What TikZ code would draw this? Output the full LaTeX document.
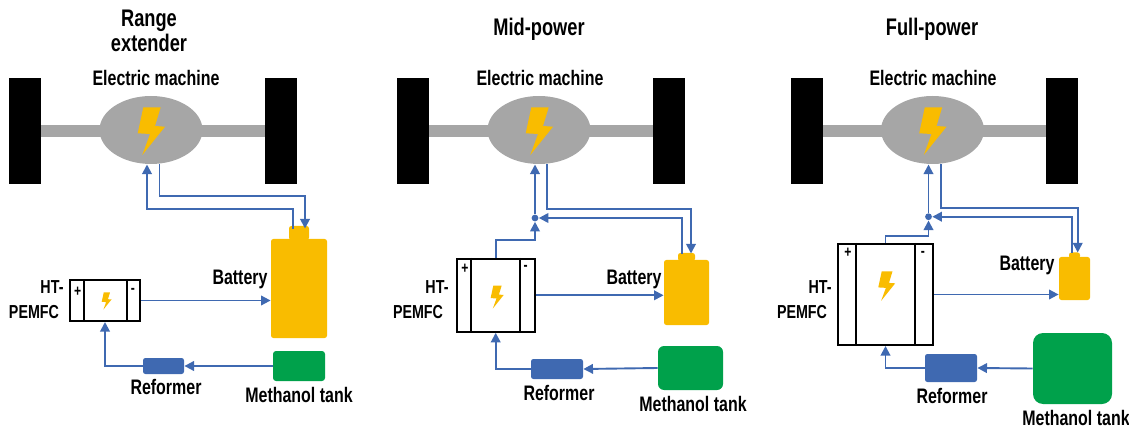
\documentclass[tikz,border=0pt]{standalone}
\usepackage{fontspec}
\setmainfont[FakeStretch=0.76]{Liberation Sans}
\usetikzlibrary{arrows.meta,shapes.geometric}
\definecolor{flowblue}{HTML}{3F69B1}
\definecolor{boltyellow}{HTML}{F9BC00}
\definecolor{tankgreen}{HTML}{00A14B}
\definecolor{axlegray}{HTML}{A6A6A6}
\tikzset{
    lbl/.style={inner sep=0pt,font=\fontsize{10.5}{12.5}\selectfont\bfseries,align=center},
    fclbl/.style={inner sep=0pt,font=\fontsize{9.4}{12.5}\selectfont\bfseries,align=center},
    ttl/.style={inner sep=0pt,font=\fontsize{12}{12.5}\selectfont\bfseries,align=center},
    sign/.style={inner sep=0pt,font=\fontsize{8}{8}\selectfont\bfseries},
    wheel/.style={fill=black,inner sep=0pt,minimum width=16pt,minimum height=53pt},
    machine/.style={ellipse,fill=axlegray,inner sep=0pt,minimum width=51.5pt,minimum height=34pt},
    cell/.style={draw=black,line width=1pt,inner sep=0pt},
    battery/.style={fill=boltyellow,rounded corners=1.2pt,inner sep=0pt},
    tank/.style={fill=tankgreen,inner sep=0pt},
    reformer/.style={fill=flowblue,rounded corners=1.2pt,inner sep=0pt},
    flow/.style={draw=flowblue,line width=.95pt,-{Triangle[width=4.8pt,length=4.8pt]}},
    junction/.style={circle,fill=flowblue,inner sep=0pt,minimum size=3.4pt},
    bolt/.pic={\fill[boltyellow] (-7.7,-23.7) -- (9.7,-23.7) -- (4,-5) -- (14,-4.3) -- (-8.7,24) -- (-1,3) -- (-13.3,2.3) -- cycle;}
}
\begin{document}
\begin{tikzpicture}[x=.5pt,y=-.5pt]
    \useasboundingbox (0,0) rectangle (1129,427);

    % axle and machine
    \foreach \n/\x/\lx in {A/0/156,B/388/540,C/781.5/933}{
        \fill[axlegray] (25+\x,125) rectangle (281+\x,137);
        \node[wheel] (wheelL\n) at (25+\x,131) {};
        \node[wheel] (wheelR\n) at (280.5+\x,131) {};
        \node[machine] (mach\n) at (151+\x,130) {};
        \pic at (151+\x,131) {bolt};
        \node[lbl] (machLbl\n) at (\lx,78) {Electric machine};
    }

    % range extender
    \node[ttl] (titleA) at (149,31) {Range\\extender};
    \node[battery,minimum width=10pt,minimum height=7pt] (capA) at (299,233) {};
    \node[battery,minimum width=28pt,minimum height=49.5pt] (batA) at (299,288.5) {};
    \node[tank,rounded corners=1.5pt,minimum width=26pt,minimum height=15pt] (tankA) at (299,366) {};
    \node[reformer,minimum width=20.5pt,minimum height=8pt] (refA) at (163.5,366) {};
    \node[cell,minimum width=35pt,minimum height=20.5pt] (fcA) at (105,300.5) {};
    \draw[cell] (fcA.north west) ++(14.5,0) -- ++(0,41);
    \draw[cell] (fcA.north east) ++(-14.5,0) -- ++(0,41);
    \pic[scale=.36] at (106.5,301) {bolt};
    \node[sign] (plusA) at (77.7,291.5) {+};
    \node[sign] (minusA) at (133,291) {-};
    \node[lbl] (batLblA) at (240,279) {Battery};
    \node[fclbl] (htA) at (52,287) {HT-};
    \node[fclbl] (pemA) at (34,312) {PEMFC};
    \node[lbl] (refLblA) at (166,387) {Reformer};
    \node[lbl] (tankLblA) at (299,395) {Methanol tank};
    \coordinate (outA) at (293,229);
    \coordinate (inA) at (305,228.5);
    \coordinate (mInA) at (147,164.5);
    \coordinate (mOutA) at (159.5,164);
    \draw[flow] (outA) |- (147,209) -- (mInA);
    \draw[flow] (mOutA) |- (305,196) -- (inA);
    \draw[flow] (fcA.east) -- (fcA.east -| batA.west);
    \draw[flow] (tankA.west) -- (refA.east);
    \draw[flow] (refA.west) -| (fcA.south);

    % mid-power
    \node[ttl] (titleB) at (539,29) {Mid-power};
    \node[battery,minimum width=8.5pt,minimum height=4pt] (capB) at (686.5,257) {};
    \node[battery,minimum width=22.5pt,minimum height=32.5pt] (batB) at (686.5,292.5) {};
    \node[tank,rounded corners=3pt,minimum width=32.5pt,minimum height=22pt] (tankB) at (690.5,368) {};
    \node[reformer,minimum width=26pt,minimum height=10pt] (refB) at (557,369) {};
    \node[cell,minimum width=39pt,minimum height=36.5pt] (fcB) at (495.7,295.3) {};
    \draw[cell] (fcB.north west) ++(15.6,0) -- ++(0,73);
    \draw[cell] (fcB.north east) ++(-16,0) -- ++(0,73);
    \pic[scale=.48] at (497,297) {bolt};
    \node[sign] (plusB) at (465,268.7) {+};
    \node[sign] (minusB) at (525.7,268) {-};
    \node[lbl] (batLblB) at (634,279) {Battery};
    \node[fclbl] (htB) at (437,287) {HT-};
    \node[fclbl] (pemB) at (418,312) {PEMFC};
    \node[lbl] (refLblB) at (559,393) {Reformer};
    \node[lbl] (tankLblB) at (693,404) {Methanol tank};
    \node[junction] (joinB) at (535,218) {};
    \coordinate (outB) at (682,254);
    \coordinate (inB) at (691,253.5);
    \coordinate (mInB) at (535,164.5);
    \coordinate (mOutB) at (547,164);
    \draw[flow] (joinB) -- (mInB);
    \draw[flow] (fcB.north) |- (535,240) -- (joinB.south);
    \draw[flow] (outB) |- (joinB.east);
    \draw[flow] (mOutB) |- (691,209) -- (inB);
    \draw[flow] (fcB.east) -- (fcB.east -| batB.west);
    \draw[flow] (tankB.west) -- (refB.east);
    \draw[flow] (refB.west) -| (fcB.south);

    % full-power
    \node[ttl] (titleC) at (932,29) {Full-power};
    \node[battery,minimum width=5.5pt,minimum height=3pt] (capC) at (1074.5,255.5) {};
    \node[battery,minimum width=15.5pt,minimum height=21.5pt] (batC) at (1074.5,278.5) {};
    \node[tank,rounded corners=5pt,minimum width=39.5pt,minimum height=35.5pt] (tankC) at (1072.5,368.5) {};
    \node[reformer,minimum width=26pt,minimum height=14pt] (refC) at (951,368) {};
    \node[cell,minimum width=47.5pt,minimum height=50.5pt] (fcC) at (885.5,294.5) {};
    \draw[cell] (fcC.north west) ++(19,0) -- ++(0,101);
    \draw[cell] (fcC.north east) ++(-19,0) -- ++(0,101);
    \pic[scale=.62] at (886.5,286) {bolt};
    \node[sign] (plusC) at (848,253) {+};
    \node[sign] (minusC) at (923,254) {-};
    \node[lbl] (batLblC) at (1027,265) {Battery};
    \node[fclbl] (htC) at (820,287) {HT-};
    \node[fclbl] (pemC) at (802,312) {PEMFC};
    \node[lbl] (refLblC) at (952,396) {Reformer};
    \node[lbl] (tankLblC) at (1076,418) {Methanol tank};
    \node[junction] (joinC) at (928.5,216.7) {};
    \coordinate (outC) at (1071.7,253);
    \coordinate (inC) at (1077.7,252.5);
    \coordinate (mInC) at (928.5,164.5);
    \coordinate (mOutC) at (941,164);
    \draw[flow] (joinC) -- (mInC);
    \draw[flow] (fcC.north) |- (928.5,236) -- (joinC.south);
    \draw[flow] (outC) |- (joinC.east);
    \draw[flow] (mOutC) |- (1077.7,208) -- (inC);
    \draw[flow] (fcC.east) -- (fcC.east -| batC.west);
    \draw[flow] (tankC.west) -- (refC.east);
    \draw[flow] (refC.west) -| (fcC.south);
\end{tikzpicture}
\end{document}
